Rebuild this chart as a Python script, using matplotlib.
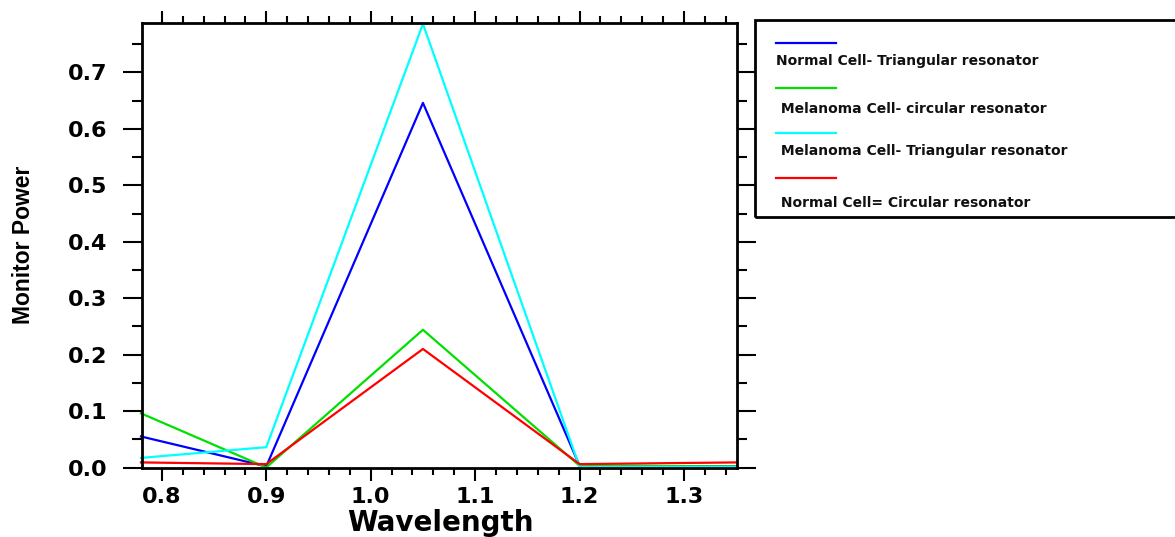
import matplotlib
matplotlib.use("Agg")
import matplotlib.pyplot as plt
from matplotlib.ticker import MultipleLocator
from matplotlib.patches import Rectangle
from matplotlib.lines import Line2D

# data
wavelength = [0.78, 0.9, 1.05, 1.2, 1.35]
normal_tri = [0.055, 0.002, 0.646, 0.003, 0.002]
melanoma_circ = [0.096, 0.0, 0.244, 0.003, 0.002]
melanoma_tri = [0.017, 0.036, 0.786, 0.001, 0.001]
normal_circ = [0.009, 0.006, 0.210, 0.006, 0.009]

labels = ["Normal Cell- Triangular resonator",
          " Melanoma Cell- circular resonator",
          " Melanoma Cell- Triangular resonator",
          " Normal Cell= Circular resonator"]
colors = ["#0000ff", "#00e000", "#00ffff", "#ff0000"]
series = [normal_tri, melanoma_circ, melanoma_tri, normal_circ]

W, H = 1175, 537
fig = plt.figure(figsize=(W / 100, H / 100), dpi=100)
ax = fig.add_axes([142 / W, 1 - 467.5 / H, (737.3 - 142) / W, (467.5 - 23.3) / H])

for ys, c in zip(series, colors):
    ax.plot(wavelength, ys, color=c, lw=1.6, clip_on=False)

ax.set_xlim(0.781, 1.351)
ax.set_ylim(0, 0.787)
ax.xaxis.set_major_locator(MultipleLocator(0.1))
ax.xaxis.set_minor_locator(MultipleLocator(0.02))
ax.yaxis.set_major_locator(MultipleLocator(0.1))
ax.yaxis.set_minor_locator(MultipleLocator(0.05))

ax.tick_params(axis="x", which="both", direction="out", top=True, bottom=True, width=1.5)
ax.tick_params(axis="x", which="major", length=9, pad=5)
ax.tick_params(axis="x", which="minor", length=5)
ax.tick_params(axis="y", which="both", direction="out", left=True, right=True, width=1.5)
ax.tick_params(axis="y", which="major", length=14, pad=11)
ax.tick_params(axis="y", which="minor", length=7.5)

for lab in ax.get_xticklabels() + ax.get_yticklabels():
    lab.set_fontweight("bold")
    lab.set_fontsize(16)
    lab.set_fontfamily("DejaVu Sans")
ax.xaxis.set_major_formatter(plt.FuncFormatter(lambda v, p: f"{v:.1f}"))
ax.yaxis.set_major_formatter(plt.FuncFormatter(lambda v, p: f"{v:.1f}"))

for s in ax.spines.values():
    s.set_linewidth(2)

fig.text(440 / W, 1 - 523 / H, "Wavelength", ha="center", va="center",
         fontsize=20, fontweight="bold", family="DejaVu Sans")
fig.text(24 / W, 1 - 245 / H, "Monitor Power", ha="center", va="center", rotation=90,
         fontsize=16.5, fontweight="bold", family=["Liberation Sans", "DejaVu Sans"])

# legend box drawn by hand, it runs off the right edge
fig.patches.append(Rectangle((755 / W, 1 - 217 / H), (W + 10 - 755) / W, (217 - 20) / H,
                             transform=fig.transFigure, fill=False, lw=2, ec="black"))
line_y = [43.3, 88.3, 133.3, 177.7]
text_y = [61, 109, 151, 203]
for lab, c, ly, ty in zip(labels, colors, line_y, text_y):
    fig.lines.append(Line2D([776 / W, 836 / W], [1 - ly / H] * 2, transform=fig.transFigure,
                            color=c, lw=1.6))
    fig.text(776 / W, 1 - ty / H, lab, ha="left", va="center", fontsize=10,
             fontweight="bold", family="DejaVu Sans", color="#111111")

fig.savefig("out.png", dpi=100)
